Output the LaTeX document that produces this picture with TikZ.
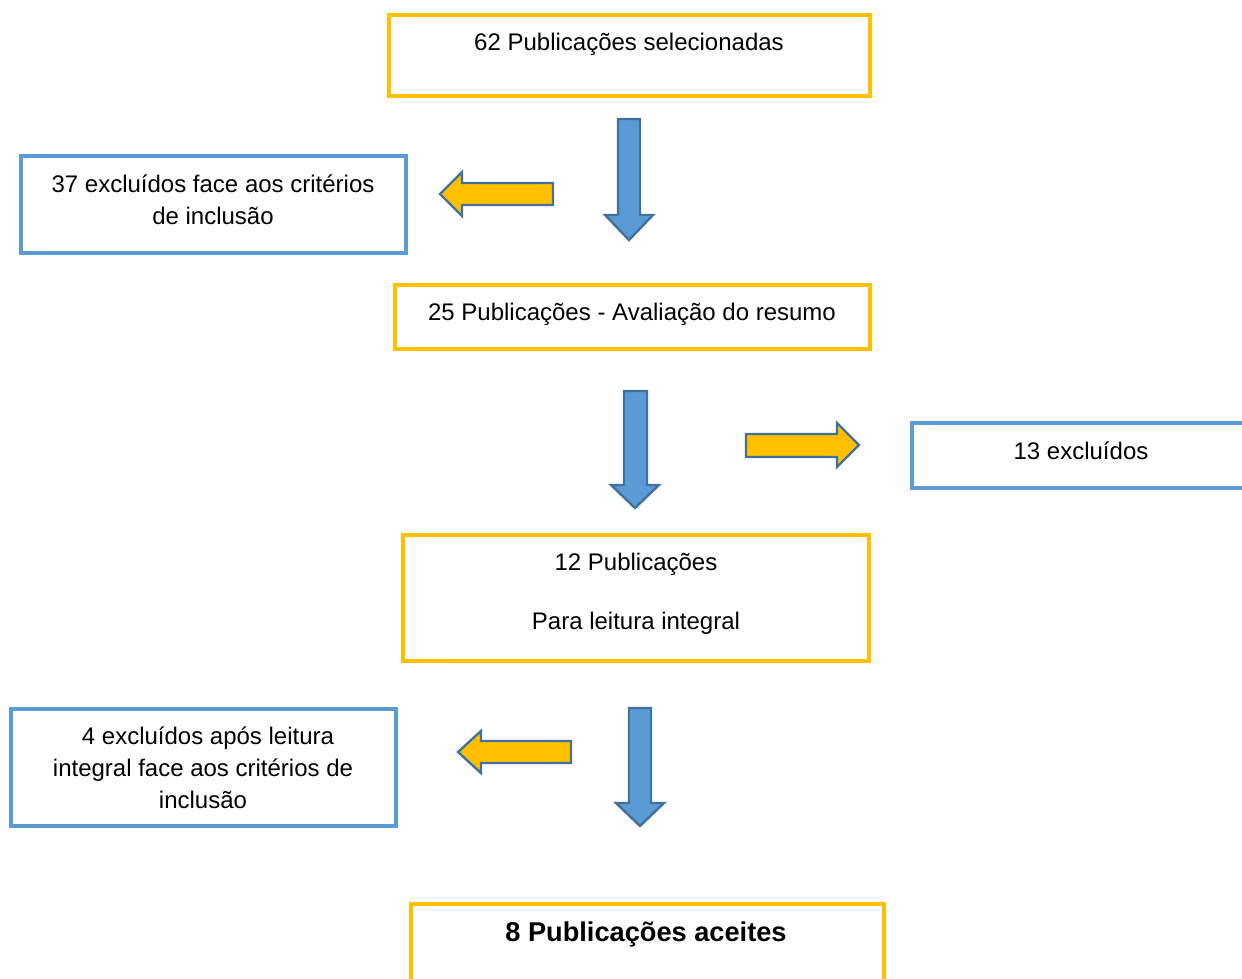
\documentclass[tikz,border=0pt]{standalone}
\usepackage{fontspec}
\setmainfont{Liberation Sans}
\definecolor{oyellow}{HTML}{FFC000}
\definecolor{oblue}{HTML}{5B9BD5}
\definecolor{oline}{HTML}{41719C}
\begin{document}
\begin{tikzpicture}[x=0.5pt,y=-0.5pt,
  ybox/.style={draw=oyellow,line width=2pt,fill=white,inner sep=0pt},
  bbox/.style={draw=oblue,line width=2pt,fill=white,inner sep=0pt},
  txt/.style={anchor=base,inner sep=0pt,font=\fontsize{12}{16}\selectfont},
  yarrow/.style={fill=oyellow,draw=oline,line width=1.2pt,line join=miter},
  barrow/.style={fill=oblue,draw=oline,line width=1.2pt,line join=miter}]
\useasboundingbox (0,0) rectangle (1242,979);
\clip (0,0) rectangle (1242,979);
% boxes
\node[ybox,minimum width=240.5pt,minimum height=40.5pt] (b1) at (629.5,55.5) {};
\node[bbox,minimum width=192.5pt,minimum height=48.5pt] (b2) at (213.5,204.5) {};
\node[ybox,minimum width=237.5pt,minimum height=32pt] (b3) at (632.5,317) {};
\node[bbox,minimum width=175pt,minimum height=32.5pt] (b4) at (1087,455.5) {};
\node[ybox,minimum width=233pt,minimum height=63pt] (b5) at (636,598) {};
\node[bbox,minimum width=192.5pt,minimum height=58.5pt] (b6) at (203.5,767.5) {};
\node[ybox,minimum width=236.5pt,minimum height=50pt] (b7) at (647.5,954) {};
% texts
\node[txt] (t1) at (629,50.5) {62 Publicações selecionadas};
\node[txt] (t2a) at (213,192.5) {37 excluídos face aos critérios};
\node[txt] (t2b) at (213,224.5) {de inclusão};
\node[txt] (t3) at (632,320.5) {25 Publicações - Avaliação do resumo};
\node[txt] (t4) at (1081,459.5) {13 excluídos};
\node[txt] (t5a) at (636,570.5) {12 Publicações};
\node[txt] (t5b) at (636,629.5) {Para leitura integral};
\node[txt] (t6a) at (208,744.5) {4 excluídos após leitura};
\node[txt] (t6b) at (203,776.5) {integral face aos critérios de};
\node[txt] (t6c) at (203,808.5) {inclusão};
\node[txt,font=\fontsize{13.6}{16}\selectfont\bfseries] (t7) at (646,941) {8 Publicações aceites};
% block arrows
\draw[barrow] (618,119) -- (640,119) -- (640,215) -- (653,215) -- (629,240) -- (605,215) -- (618,215) -- cycle;
\draw[yarrow] (553,183) -- (553,205) -- (462,205) -- (462,216) -- (440,194) -- (462,172) -- (462,183) -- cycle;
\draw[barrow] (624,391) -- (647,391) -- (647,485) -- (659,485) -- (635,508) -- (611,485) -- (624,485) -- cycle;
\draw[yarrow] (746,434) -- (837,434) -- (837,423) -- (859,445) -- (837,467) -- (837,457) -- (746,457) -- cycle;
\draw[yarrow] (571,741) -- (571,763) -- (481,763) -- (481,773) -- (458,752) -- (481,731) -- (481,741) -- cycle;
\draw[barrow] (629,708) -- (651,708) -- (651,803) -- (664,803) -- (640,826) -- (616,803) -- (629,803) -- cycle;
\end{tikzpicture}
\end{document}
